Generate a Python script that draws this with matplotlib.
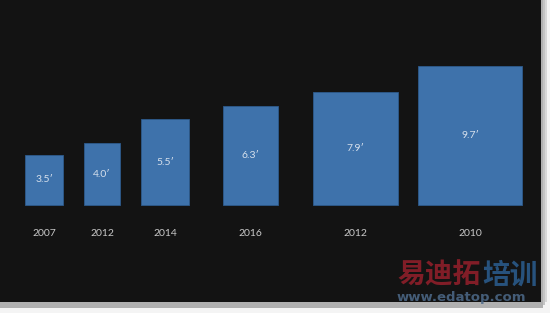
import matplotlib
matplotlib.use("Agg")
import matplotlib.pyplot as plt
from matplotlib.patches import Rectangle

# Data: screen sizes (diagonal, inches) with their year, width and height
years = ["2007", "2012", "2014", "2016", "2012", "2010"]
sizes = [3.5, 4.0, 5.5, 6.3, 7.9, 9.7]
widths = [2.12, 2.01, 2.68, 3.07, 4.75, 5.81]
heights = [2.80, 3.46, 4.80, 5.53, 6.31, 7.77]

# Layout: bar centres along the x axis (inch units)
centers = [2.46, 5.70, 9.22, 14.0, 19.86, 26.26]

W, H = 550, 313
px = 17.9  # pixels per unit
fig = plt.figure(figsize=(5.5, 3.13), dpi=100)
fig.patch.set_facecolor("#f4f4f4")

# dark panel with soft shadow
for i, c in enumerate(["#d8d8d8", "#c4c4c4", "#b0b0b0"]):
    fig.patches.append(Rectangle((0, (11 - 3 * i) / H), (541 + 6 - 2 * i) / W, 1,
                                 transform=fig.transFigure, facecolor=c, edgecolor="none", zorder=0))
fig.patches.append(Rectangle((0, 11 / H), 541 / W, 1, transform=fig.transFigure,
                             facecolor="#131313", edgecolor="none", zorder=0.5))

ax = fig.add_axes([0, 0, 1, 1])
ax.set_zorder(3)
ax.set_facecolor("none")
ax.patch.set_alpha(0)
ax.set_xlim(0, W / px)
ax.set_ylim(-108 / px, 205 / px)
ax.axis("off")

ax.bar(centers, heights, width=widths, bottom=0, color="#3e72ab",
       edgecolor="#2d5a8c", linewidth=0.6, zorder=2)

fam = ["Lato", "DejaVu Sans"]
for x, h, s, y in zip(centers, heights, sizes, years):
    ax.text(x, h / 2, f"{s:.1f}\u2032", ha="center", va="center", color="#d6e0ec",
            fontsize=7.5, family=fam, zorder=3)
    ax.text(x, -28 / px, y, ha="center", va="center", color="#c8c8c8",
            fontsize=7.5, family=fam, zorder=3)

# watermark
cjk = ["Noto Sans CJK SC", "DejaVu Sans"]
t1 = fig.text(397 / W, 1 - 276 / H, "易迪拓", color="#8e1f2a", fontsize=20, weight="bold",
              family=cjk, ha="left", va="center", alpha=0.9, zorder=5)
t2 = fig.text(482 / W, 1 - 276 / H, "培训", color="#2a5a8a", fontsize=20, weight="bold",
              family=cjk, ha="left", va="center", alpha=0.9, zorder=5)
t3 = fig.text(397 / W, 1 - 298 / H, "www.edatop.com", color="#4d6a8a", fontsize=9.5, weight="bold",
              family=["DejaVu Sans"], ha="left", va="center", alpha=0.85, zorder=5)
for t in (t1, t2, t3):
    t.set_zorder(5)

fig.savefig("out.png", dpi=100, facecolor=fig.get_facecolor())
